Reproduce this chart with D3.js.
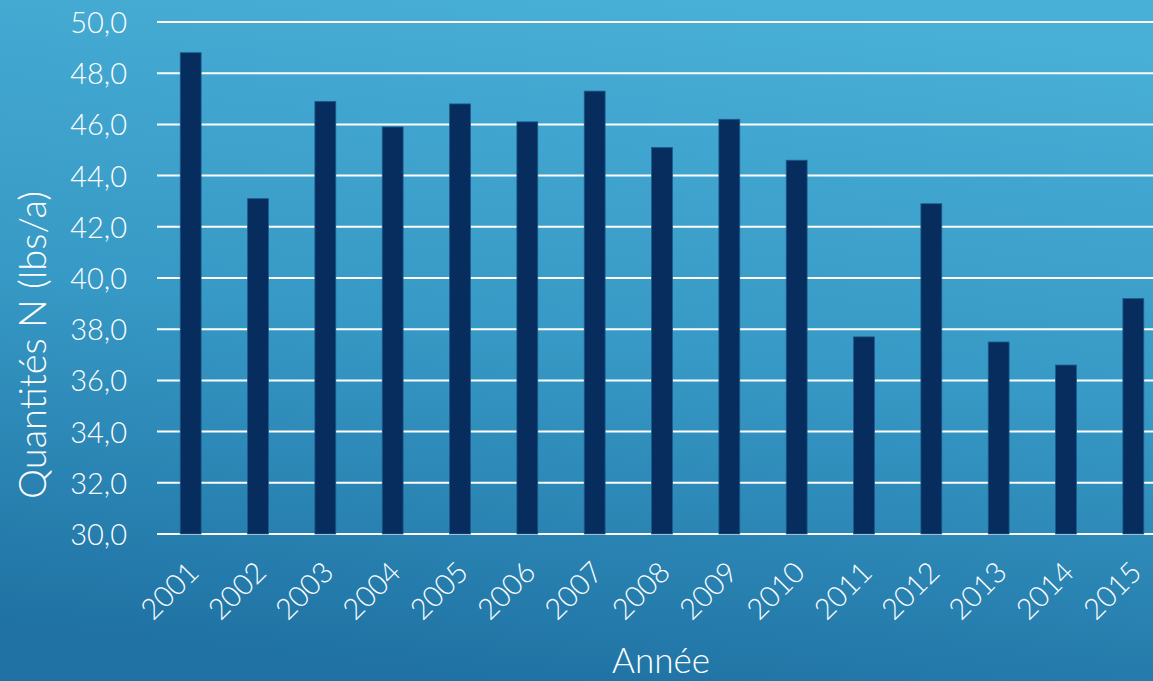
<!DOCTYPE html>
<html>
<head>
<meta charset="utf-8">
<script src="https://cdn.jsdelivr.net/npm/d3@7"></script>
<style>
  html, body { margin: 0; padding: 0; overflow: hidden; }
  svg { display: block; }
  svg text { font-family: "Lato", "Noto Sans", sans-serif; font-weight: 300; fill: #ffffff; }
</style>
</head>
<body>
<div id="chart"></div>
<script>
// données
const years = ["2001","2002","2003","2004","2005","2006","2007","2008","2009","2010","2011","2012","2013","2014","2015"];
const quantities = [48.8, 43.1, 46.9, 45.9, 46.8, 46.1, 47.3, 45.1, 46.2, 44.6, 37.7, 42.9, 37.5, 36.6, 39.2];
const yTicks = [30, 32, 34, 36, 38, 40, 42, 44, 46, 48, 50];

const W = 1153, H = 681;
const margin = { top: 22, left: 157, bottom: H - 534 };
const plotW = 1010;

const svg = d3.select("#chart").append("svg")
    .attr("width", W).attr("height", H);

// fond en dégradé
const defs = svg.append("defs");
const grad = defs.append("linearGradient").attr("id", "bg")
    .attr("x1", "60%").attr("y1", "0%").attr("x2", "40%").attr("y2", "100%");
grad.append("stop").attr("offset", "0%").attr("stop-color", "#48afd6");
grad.append("stop").attr("offset", "50%").attr("stop-color", "#3799c5");
grad.append("stop").attr("offset", "100%").attr("stop-color", "#1f72a3");
svg.append("rect").attr("width", W).attr("height", H).attr("fill", "url(#bg)");

const x = d3.scaleBand().domain(years)
    .range([margin.left, margin.left + plotW])
    .paddingInner(0.69).paddingOuter(0.345);
const y = d3.scaleLinear().domain([30, 50]).range([H - margin.bottom, margin.top]);

// grille
svg.append("g").selectAll("line").data(yTicks).join("line")
    .attr("x1", margin.left).attr("x2", W)
    .attr("y1", d => y(d)).attr("y2", d => y(d))
    .attr("stroke", "#ffffff").attr("stroke-width", 2);

// barres
svg.append("g").selectAll("rect").data(quantities).join("rect")
    .attr("x", (d, i) => x(years[i]))
    .attr("y", d => y(d))
    .attr("width", x.bandwidth())
    .attr("height", d => y(30) - y(d))
    .attr("fill", "#062d5d")
    .attr("stroke", "#1d5b8c").attr("stroke-width", 0.8);

// axe y
const yAxis = svg.append("g")
    .attr("transform", `translate(${margin.left},0)`)
    .call(d3.axisLeft(y).tickValues(yTicks).tickSize(0).tickPadding(30)
        .tickFormat(d => d3.format(".1f")(d).replace(".", ",")));
yAxis.attr("font-family", null);
yAxis.select(".domain").remove();
yAxis.selectAll("text").style("font-size", "29px").attr("dy", "0.36em");

// axe x
const xAxis = svg.append("g")
    .attr("transform", `translate(0,${y(30)})`)
    .call(d3.axisBottom(x).tickSize(0));
xAxis.attr("font-family", null);
xAxis.select(".domain").remove();
xAxis.selectAll("text")
    .style("font-size", "29px")
    .attr("text-anchor", "end")
    .attr("y", 0).attr("dy", 0)
    .attr("transform", "translate(10,40) rotate(-45)");

// titres
svg.append("text")
    .attr("transform", `translate(46,345) rotate(-90)`)
    .attr("text-anchor", "middle")
    .style("font-size", "38px")
    .text("Quantités N (lbs/a)");

svg.append("text")
    .attr("x", 661).attr("y", 673)
    .attr("text-anchor", "middle")
    .style("font-size", "35px")
    .text("Année");
</script>
</body>
</html>
